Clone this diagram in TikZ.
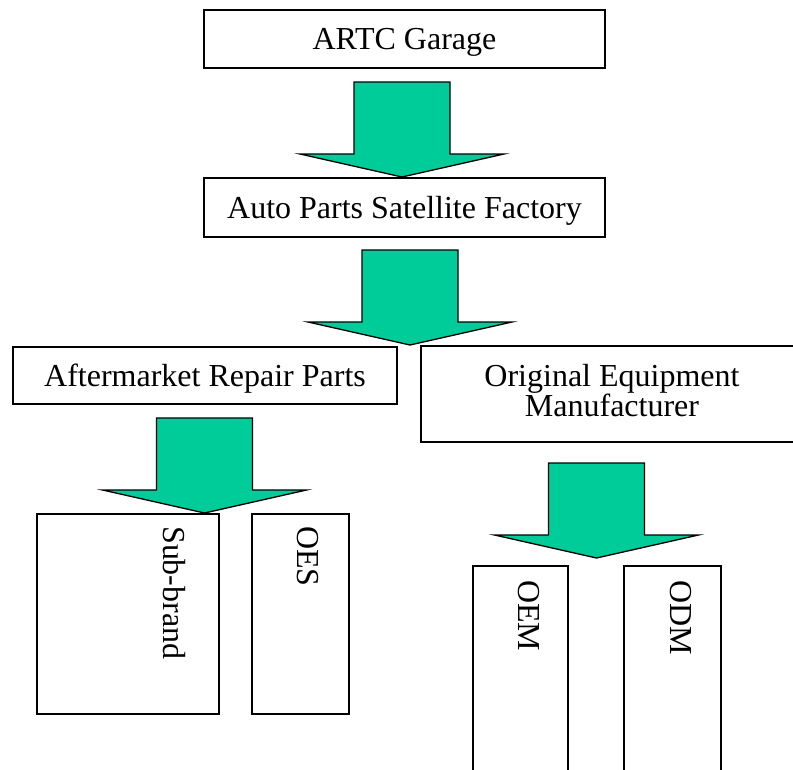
\documentclass[tikz,border=0pt]{standalone}
\usepackage{fontspec}
\setmainfont{Liberation Serif}
\usepackage{tikz}
\usetikzlibrary{positioning, calc}
\definecolor{arrowgreen}{RGB}{0,204,153}

\begin{document}
\begin{tikzpicture}[
    x=1pt, y=-1pt,
    box/.style={rectangle, draw, line width=1.3pt, fill=white, inner sep=0pt, align=center, font=\fontsize{32}{30}\selectfont},
    capbox/.style={box, text height=21pt, text depth=0pt},
    vlabel/.style={rotate=-90, anchor=base west, inner sep=0pt, font=\fontsize{32}{30}\selectfont},
    bigarrow/.pic={
        \draw[line width=1.3pt, fill=arrowgreen, line join=miter]
            (-48,0) -- (48,0) -- (48,72) -- (102,72) -- (0,95) -- (-102,72) -- (-48,72) -- cycle;
    }
]
\useasboundingbox (0,0) rectangle (793,769);

% Top levels
\node[capbox, minimum width=401pt, minimum height=58pt] (garage) at (404.5,39) {ARTC Garage};
\node[capbox, minimum width=401pt, minimum height=59pt] (factory) at (404.5,207.5) {Auto Parts Satellite Factory};

% Second level
\node[capbox, minimum width=384pt, minimum height=57pt] (aftermarket) at (205,375.5) {Aftermarket Repair Parts};
\node[box, minimum width=382pt, minimum height=96pt] (oemaker) at (612,394) {};
\node[inner sep=0pt, align=center, anchor=base, font=\fontsize{32}{30}\selectfont] (oemakertext) at (612,416) {Original Equipment\\Manufacturer};

% Bottom boxes
\node[box, minimum width=182pt, minimum height=200pt] (subbrand) at (128,614) {};
\node[box, minimum width=97pt, minimum height=200pt] (oes) at (300.5,614) {};
\node[box, minimum width=95pt, minimum height=234pt] (oem) at (520.5,683) {};
\node[box, minimum width=97pt, minimum height=234pt] (odm) at (672.5,683) {};

% Vertical labels
\node[vlabel] (subbrandtext) at (163,526) {Sub-brand};
\node[vlabel] (oestext) at (297,526) {OES};
\node[vlabel] (oemtext) at (518,580) {OEM};
\node[vlabel] (odmtext) at (670,580) {ODM};

% Block arrows
\coordinate (a1) at (402,82);
\coordinate (a2) at (410,250);
\coordinate (a3) at (204.5,418);
\coordinate (a4) at (596.5,463);
\pic at (a1) {bigarrow};
\pic at (a2) {bigarrow};
\pic at (a3) {bigarrow};
\pic at (a4) {bigarrow};

\end{tikzpicture}
\end{document}
